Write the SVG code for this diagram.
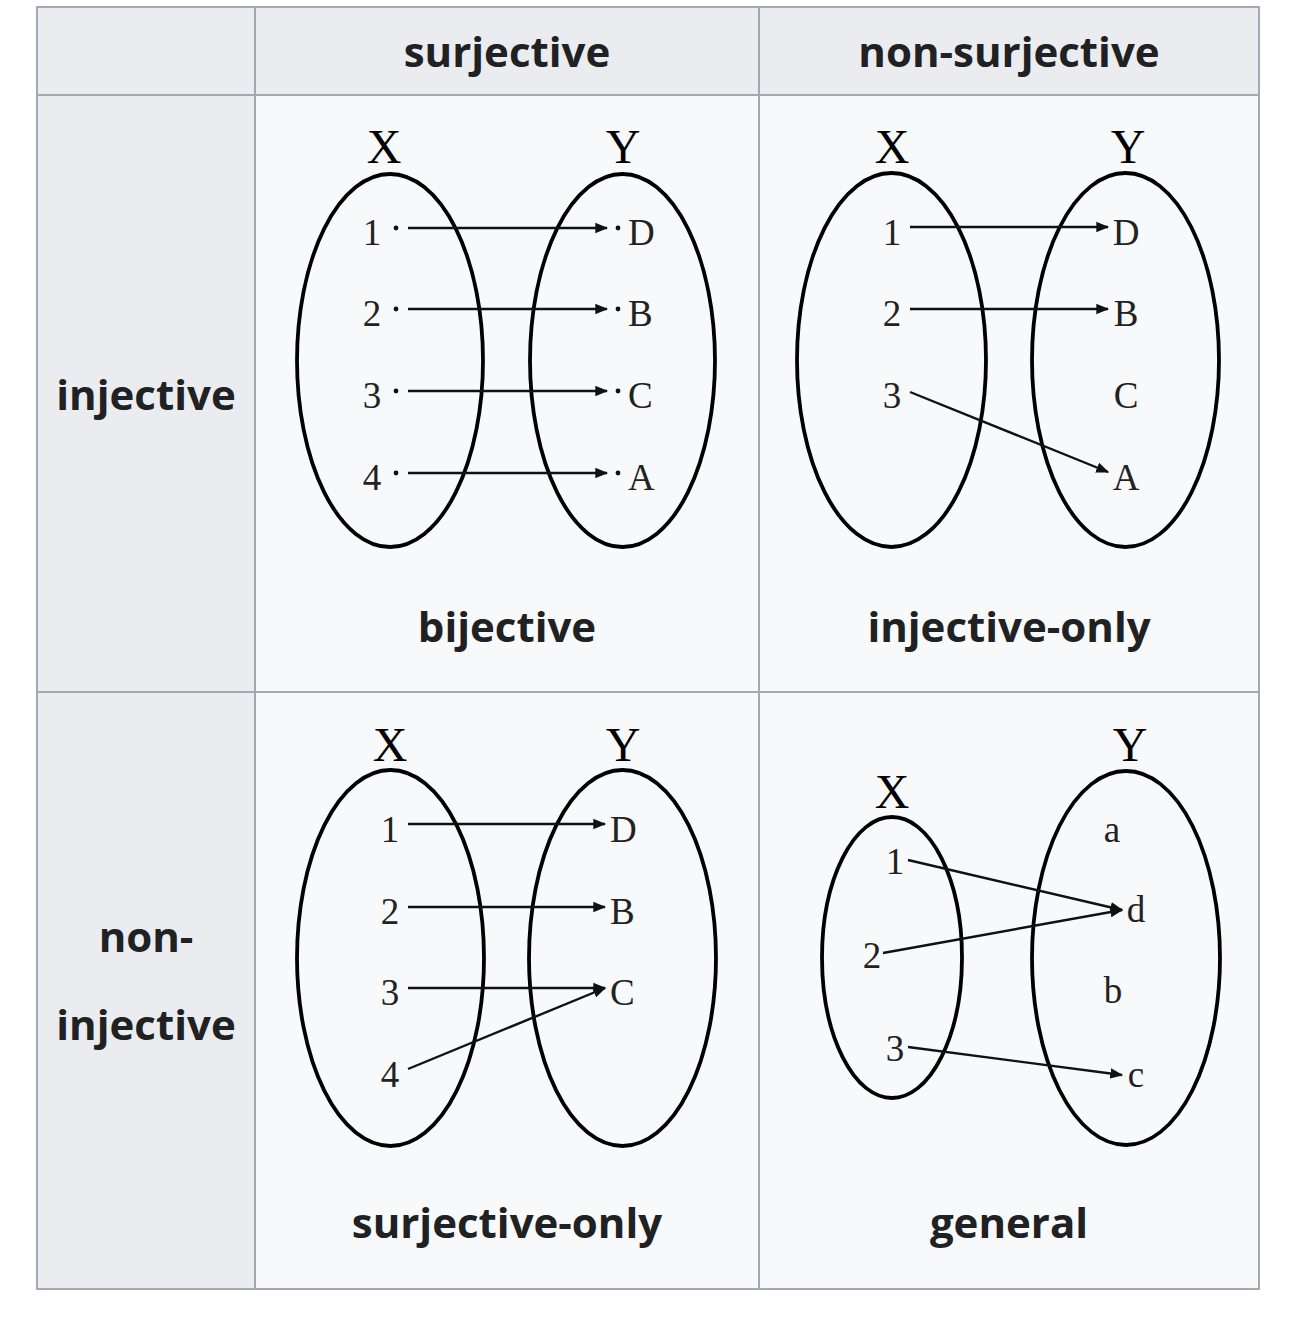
<svg xmlns="http://www.w3.org/2000/svg" width="1312" height="1330" viewBox="0 0 1312 1330">
<style>
.hdr{font-family:"Open Sans","Noto Sans","Liberation Sans",sans-serif;font-weight:bold;font-size:42px;fill:#202122;text-anchor:middle}
.set{font-family:"Liberation Serif","DejaVu Serif",serif;font-size:48px;fill:#000;text-anchor:middle}
.el{font-family:"Liberation Serif","DejaVu Serif",serif;font-size:37px;fill:#222;text-anchor:middle}
.els{font-family:"Liberation Serif","DejaVu Serif",serif;font-size:37px;fill:#222;text-anchor:start}
.ell{fill:none;stroke:#000;stroke-width:3.8}
.arr{stroke:#111;stroke-width:2.4;fill:none;marker-end:url(#ah)}
.grid{stroke:#a2a9b1;stroke-width:2;fill:none}
.hbg{fill:#eaecf0}
.cbg{fill:#f8f9fa}
</style>
<defs>
<marker id="ah" markerUnits="userSpaceOnUse" markerWidth="13" markerHeight="13" viewBox="0 0 10 10" refX="9" refY="5" orient="auto">
<path d="M0,1 L10,5 L0,9 z" fill="#111"/>
</marker>
</defs>
<rect width="1312" height="1330" fill="#ffffff"/>
<g id="table">
<rect class="hbg" x="37" y="7" width="1222" height="88"/>
<rect class="hbg" x="37" y="95" width="218" height="1194"/>
<rect class="cbg" x="255" y="95" width="1004" height="1194"/>
<rect class="grid" x="37" y="7" width="1222" height="1282"/>
<line class="grid" x1="255" y1="7" x2="255" y2="1289"/>
<line class="grid" x1="759" y1="7" x2="759" y2="1289"/>
<line class="grid" x1="37" y1="95" x2="1259" y2="95"/>
<line class="grid" x1="37" y1="692" x2="1259" y2="692"/>
</g>
<g id="headers">
<text class="hdr" x="507" y="67">surjective</text>
<text class="hdr" x="1009" y="67">non-surjective</text>
<text class="hdr" x="146" y="410">injective</text>
<text class="hdr" x="146" y="952">non-</text>
<text class="hdr" x="146" y="1040">injective</text>
<text class="hdr" x="507" y="642">bijective</text>
<text class="hdr" x="1009" y="642">injective-only</text>
<text class="hdr" x="507" y="1238">surjective-only</text>
<text class="hdr" x="1009" y="1238">general</text>
</g>
<g id="bijective">
<ellipse class="ell" cx="390" cy="360.5" rx="93" ry="186.5"/>
<ellipse class="ell" cx="622.5" cy="360.5" rx="92.5" ry="186.5"/>
<text class="set" x="384" y="163">X</text>
<text class="set" x="623" y="163">Y</text>
<text class="el" x="372" y="245">1</text>
<text class="el" x="372" y="326">2</text>
<text class="el" x="372" y="408">3</text>
<text class="el" x="372" y="490">4</text>
<g fill="#111">
<circle cx="396" cy="228" r="2.4"/><circle cx="396" cy="309" r="2.4"/><circle cx="396" cy="391" r="2.4"/><circle cx="396" cy="473" r="2.4"/>
<circle cx="618" cy="228" r="2.4"/><circle cx="618" cy="309" r="2.4"/><circle cx="618" cy="391" r="2.4"/><circle cx="618" cy="473" r="2.4"/>
</g>
<text class="els" x="628" y="245">D</text>
<text class="els" x="628" y="326">B</text>
<text class="els" x="628" y="408">C</text>
<text class="els" x="628" y="490">A</text>
</g>
<g id="injective-only">
<ellipse class="ell" cx="891.5" cy="360" rx="94.5" ry="187"/>
<ellipse class="ell" cx="1125.5" cy="360" rx="93.5" ry="187"/>
<text class="set" x="892" y="163">X</text>
<text class="set" x="1128" y="163">Y</text>
<text class="el" x="892" y="245">1</text>
<text class="el" x="892" y="326">2</text>
<text class="el" x="892" y="408">3</text>
<text class="el" x="1126" y="245">D</text>
<text class="el" x="1126" y="326">B</text>
<text class="el" x="1126" y="408">C</text>
<text class="el" x="1126" y="490">A</text>
</g>
<g id="surjective-only">
<ellipse class="ell" cx="390.5" cy="958" rx="93.5" ry="188"/>
<ellipse class="ell" cx="622.5" cy="958" rx="93.5" ry="188"/>
<text class="set" x="390" y="761">X</text>
<text class="set" x="623" y="761">Y</text>
<text class="el" x="390" y="842">1</text>
<text class="el" x="390" y="924">2</text>
<text class="el" x="390" y="1005">3</text>
<text class="el" x="390" y="1087">4</text>
<text class="els" x="610" y="842">D</text>
<text class="els" x="610" y="924">B</text>
<text class="els" x="610" y="1005">C</text>
</g>
<g id="general">
<ellipse class="ell" cx="892" cy="957.5" rx="70" ry="140.5"/>
<ellipse class="ell" cx="1126" cy="958" rx="94" ry="187"/>
<text class="set" x="892" y="808">X</text>
<text class="set" x="1130" y="761">Y</text>
<text class="el" x="895" y="874">1</text>
<text class="el" x="872" y="968">2</text>
<text class="el" x="895" y="1061">3</text>
<text class="el" x="1112" y="842">a</text>
<text class="el" x="1136" y="922">d</text>
<text class="el" x="1113" y="1003">b</text>
<text class="el" x="1136" y="1087">c</text>
</g>
<g id="connectors">
<line class="arr" x1="408" y1="228" x2="607" y2="228"/>
<line class="arr" x1="408" y1="309" x2="607" y2="309"/>
<line class="arr" x1="408" y1="391" x2="607" y2="391"/>
<line class="arr" x1="408" y1="473" x2="607" y2="473"/>
<line class="arr" x1="910" y1="227" x2="1108" y2="227"/>
<line class="arr" x1="910" y1="309" x2="1108" y2="309"/>
<line class="arr" x1="910" y1="392" x2="1108" y2="472"/>
<line class="arr" x1="408" y1="824" x2="605" y2="824"/>
<line class="arr" x1="408" y1="907" x2="605" y2="907"/>
<line class="arr" x1="408" y1="988" x2="605" y2="988"/>
<line class="arr" x1="408" y1="1069" x2="605" y2="988"/>
<line class="arr" x1="908" y1="860" x2="1122" y2="910"/>
<line class="arr" x1="883" y1="953" x2="1122" y2="910"/>
<line class="arr" x1="908" y1="1047" x2="1122" y2="1075"/>
</g>
</svg>
